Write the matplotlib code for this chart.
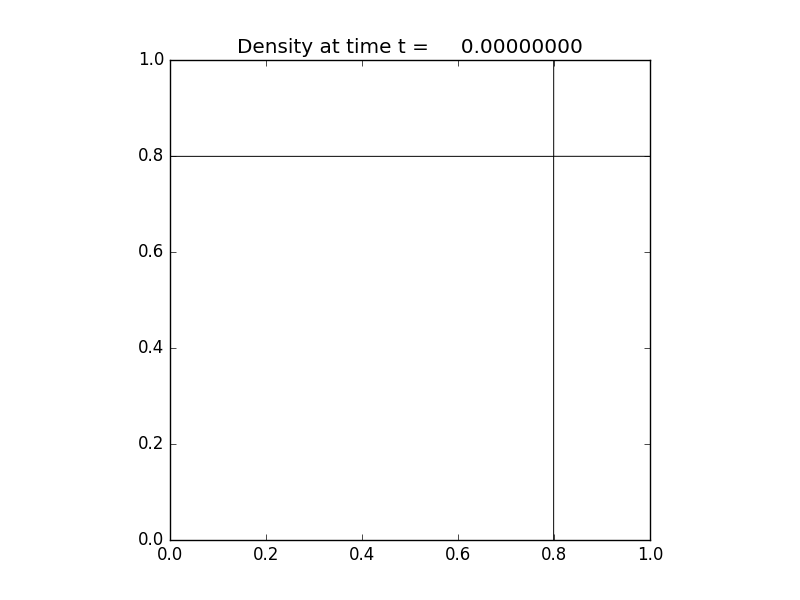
import matplotlib
matplotlib.use("Agg")
import matplotlib.pyplot as plt
import numpy as np

# 2D Riemann problem initial state: four quadrants split at x=0.8, y=0.8
x_split = 0.8
y_split = 0.8
rho_quadrants = [1.5, 0.5323, 0.138, 0.5323]  # upper-right, upper-left, lower-left, lower-right
time = 0.0


def main():
    plt.style.use('classic')
    n = 801
    x = np.linspace(0.0, 1.0, n)
    y = np.linspace(0.0, 1.0, n)
    X, Y = np.meshgrid(x, y)
    rho = np.where(X >= x_split,
                   np.where(Y >= y_split, rho_quadrants[0], rho_quadrants[3]),
                   np.where(Y >= y_split, rho_quadrants[1], rho_quadrants[2]))

    fig = plt.figure(figsize=(8, 6), dpi=100)
    ax = fig.add_subplot(111)
    ax.contour(X, Y, rho, levels=[0.3, 1.0], colors='k', linewidths=0.7)
    ax.set_aspect('equal')
    ax.set_xlim(0, 1)
    ax.set_ylim(0, 1)
    ax.set_title('Density at time t = %14.8f' % time)
    fig.savefig('out.png', dpi=100, facecolor='white')


if __name__ == "__main__":
    main()
